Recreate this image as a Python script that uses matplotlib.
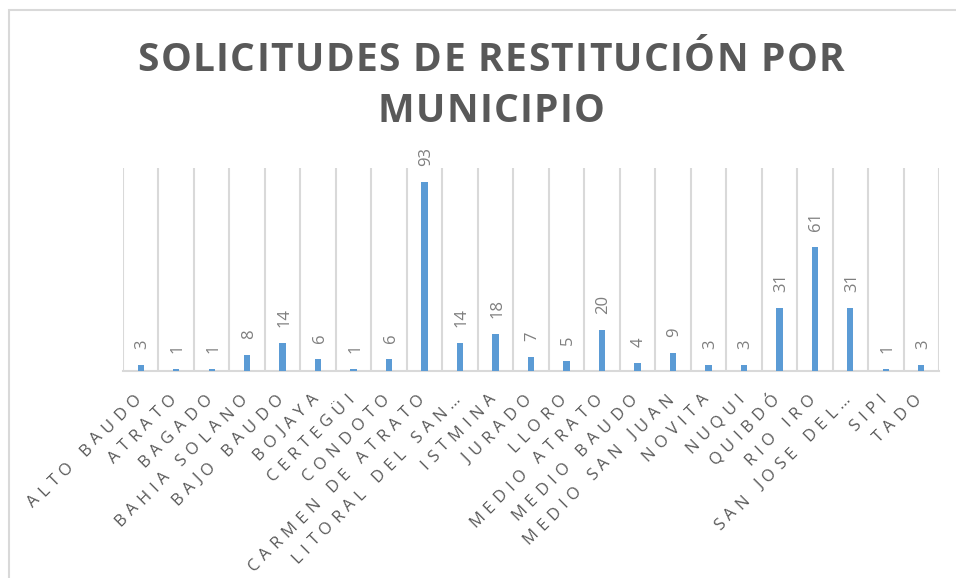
import matplotlib.pyplot as plt
from matplotlib.patches import Rectangle
from matplotlib.font_manager import FontProperties
import numpy as np

# Datos
municipios = ["ALTO BAUDO", "ATRATO", "BAGADO", "BAHIA SOLANO", "BAJO BAUDO",
              "BOJAYA", "CERTEGÜI", "CONDOTO", "CARMEN DE ATRATO",
              "LITORAL DEL SAN…", "ISTMINA", "JURADO", "LLORO",
              "MEDIO ATRATO", "MEDIO BAUDO", "MEDIO SAN JUAN", "NOVITA",
              "NUQUI", "QUIBDÓ", "RIO IRO", "SAN JOSE DEL…", "SIPI", "TADO"]
solicitudes = [3, 1, 1, 8, 14, 6, 1, 6, 93, 14, 18, 7, 5, 20, 4, 9, 3, 3,
               31, 61, 31, 1, 3]
titulo = ["SOLICITUDES DE RESTITUCIÓN POR", "MUNICIPIO"]

gris_texto = "#595959"
gris_linea = "#D9D9D9"
azul = "#5B9BD5"

W, H = 956, 578
fig = plt.figure(figsize=(W / 100, H / 100), dpi=100)
renderer = fig.canvas.get_renderer()

# marco del grafico
fig.patches.append(Rectangle((9 / W, -0.1), 1.2, 1 - 10 / H + 0.1,
                             transform=fig.transFigure, fill=False,
                             edgecolor=gris_linea, linewidth=1.5))


def ancho(s, prop):
    w, h, d = renderer.get_text_width_height_descent(s, prop, ismath=False)
    return w


def posiciones(s, prop, espacio):
    # posicion de cada letra a lo largo de la linea base (pixeles)
    ref = ancho("I", prop)
    pos = [ancho(s[:i] + "I", prop) - ref + espacio * i for i in range(len(s))]
    total = pos[-1] + ancho(s[-1], prop)
    return pos, total


def texto_espaciado(x0, y0, s, prop, espacio, angulo, color):
    # x0, y0: inicio de la linea base en pixeles (origen abajo-izquierda)
    pos, total = posiciones(s, prop, espacio)
    d = np.array([np.cos(np.radians(angulo)), np.sin(np.radians(angulo))])
    for ch, p in zip(s, pos):
        if ch == " ":
            continue
        x, y = np.array([x0, y0]) + p * d
        fig.text(x / W, y / H, ch, fontproperties=prop, color=color,
                 rotation=angulo, rotation_mode="anchor", ha="left",
                 va="baseline")
    return total


ax = fig.add_axes([123 / W, 1 - 371 / H, (939 - 123) / W, (371 - 168) / H])
x = np.arange(len(municipios))
ax.bar(x, solicitudes, width=0.18, color=azul, zorder=3)
ax.set_xlim(-0.5, len(municipios) - 0.5)
ax.set_ylim(0, 100)

# lineas de separacion entre categorias
for b in np.arange(-0.5, len(municipios), 1.0):
    ax.axvline(b, color=gris_linea, linewidth=1.5, zorder=1)

for s in ["top", "right", "left"]:
    ax.spines[s].set_visible(False)
ax.spines["bottom"].set_color(gris_linea)
ax.spines["bottom"].set_linewidth(1.5)
ax.set_yticks([])
ax.set_xticks([])

# etiquetas de datos
for xi, v in zip(x, solicitudes):
    ax.annotate(str(v), (xi, v), xytext=(1.2, 11.5), textcoords="offset points",
                rotation=90, ha="center", va="bottom", family="Open Sans",
                fontsize=12, color="#7F7F7F")

# etiquetas del eje x, inclinadas 45 grados y con letras espaciadas
prop_eje = FontProperties(family="Open Sans", size=12)
_, largo_ref = posiciones("CARMEN DE ATRATO", prop_eje, 0)
esp_eje = (243 - largo_ref) / 15
d45 = np.array([np.cos(np.radians(45)), np.sin(np.radians(45))])
for xi, nombre in zip(x, municipios):
    px, py = ax.transData.transform((xi, 0))
    fin = np.array([px + 1, py - 29])
    _, total = posiciones(nombre, prop_eje, esp_eje)
    inicio = fin - total * d45
    texto_espaciado(inicio[0], inicio[1], nombre, prop_eje, esp_eje, 45,
                    gris_texto)

# titulo
prop_tit = FontProperties(family="Open Sans", weight="bold", size=28)
_, largo_t = posiciones(titulo[0], prop_tit, 0)
esp_tit = (707 - largo_t) / (len(titulo[0]) - 1)
for linea, yc in zip(titulo, [71, 122]):
    _, total = posiciones(linea, prop_tit, esp_tit)
    texto_espaciado(491 - total / 2, H - yc, linea, prop_tit, esp_tit, 0,
                    gris_texto)

fig.savefig("out.png", dpi=100)
